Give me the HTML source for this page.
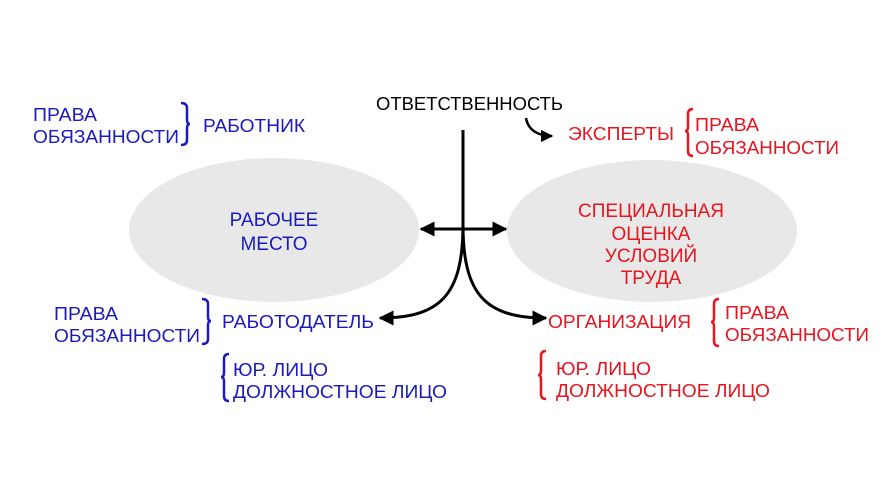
<!DOCTYPE html>
<html><head><meta charset="utf-8"><style>
html,body{margin:0;padding:0;background:#fff;width:888px;height:500px;overflow:hidden}
svg{display:block}
text{font-family:"Liberation Sans","DejaVu Sans",sans-serif;font-size:18px}
.b{fill:#1a1ac0}.r{fill:#e8141e}.k{fill:#000}
.big{font-size:19px}
</style></head><body>
<svg width="888" height="500" viewBox="0 0 888 500">
<defs>
<marker id="a" viewBox="0 0 10 10" refX="9" refY="5" markerWidth="5" markerHeight="5" orient="auto-start-reverse"><path d="M0,0L10,5L0,10z" fill="#000"/></marker>
</defs>
<ellipse cx="274" cy="230" rx="145" ry="72" fill="#e8e8e8"/>
<ellipse cx="652" cy="231" rx="145" ry="71" fill="#e8e8e8"/>

<g stroke="#000" stroke-width="3" fill="none">
<path d="M463,130 L463,225 C463,295 440,318 380,318" marker-end="url(#a)"/>
<path d="M463,225 C463,295 486,318 546,318" marker-end="url(#a)"/>
<line x1="421" y1="229" x2="506" y2="229" marker-start="url(#a)" marker-end="url(#a)"/>
<path d="M526,118 C528,130 538,136 552,136" marker-end="url(#a)" stroke-width="2.5"/>
</g>

<g fill="none" stroke-width="2.5">
<path d="M181,103 Q187,103 187,108 L187,120 Q187,124 190,124 Q187,124 187,128 L187,140 Q187,145 181,145" stroke="#1a1ac0"/>
<path d="M202,299 Q208,299 208,304 L208,317 Q208,321 211,321 Q208,321 208,325 L208,339 Q208,344 202,344" stroke="#1a1ac0"/>
<path d="M229,354 Q224,354 224,359 L224,373 Q224,377 221,377 Q224,377 224,381 L224,396 Q224,401 229,401" stroke="#1a1ac0"/>
<path d="M693,109 Q688,109 688,114 L688,127 Q688,131 685,131 Q688,131 688,135 L688,151 Q688,156 693,156" stroke="#e8141e"/>
<path d="M719,299 Q714,299 714,304 L714,318 Q714,322 711,322 Q714,322 714,326 L714,341 Q714,346 719,346" stroke="#e8141e"/>
<path d="M546,351 Q541,351 541,356 L541,371 Q541,375 538,375 Q541,375 541,379 L541,394 Q541,399 546,399" stroke="#e8141e"/>
</g>

<text x="376" y="110" class="k" textLength="187" lengthAdjust="spacingAndGlyphs">ОТВЕТСТВЕННОСТЬ</text>

<text x="33" y="121" class="b" textLength="64" lengthAdjust="spacingAndGlyphs">ПРАВА</text>
<text x="33" y="143" class="b" textLength="146" lengthAdjust="spacingAndGlyphs">ОБЯЗАННОСТИ</text>
<text x="203" y="132" class="b" textLength="102" lengthAdjust="spacingAndGlyphs">РАБОТНИК</text>

<text x="274" y="226" class="b big" text-anchor="middle">РАБОЧЕЕ</text>
<text x="274" y="250" class="b big" text-anchor="middle">МЕСТО</text>

<text x="54" y="320" class="b" textLength="64" lengthAdjust="spacingAndGlyphs">ПРАВА</text>
<text x="54" y="342" class="b" textLength="146" lengthAdjust="spacingAndGlyphs">ОБЯЗАННОСТИ</text>
<text x="222" y="328" class="b" textLength="152" lengthAdjust="spacingAndGlyphs">РАБОТОДАТЕЛЬ</text>
<text x="233" y="376" class="b" textLength="95" lengthAdjust="spacingAndGlyphs">ЮР. ЛИЦО</text>
<text x="233" y="398" class="b" textLength="214" lengthAdjust="spacingAndGlyphs">ДОЛЖНОСТНОЕ ЛИЦО</text>

<text x="568" y="140" class="r" textLength="106" lengthAdjust="spacingAndGlyphs">ЭКСПЕРТЫ</text>
<text x="695" y="131" class="r" textLength="64" lengthAdjust="spacingAndGlyphs">ПРАВА</text>
<text x="695" y="154" class="r" textLength="144" lengthAdjust="spacingAndGlyphs">ОБЯЗАННОСТИ</text>

<text x="651" y="217" class="r big" text-anchor="middle">СПЕЦИАЛЬНАЯ</text>
<text x="651" y="240" class="r big" text-anchor="middle">ОЦЕНКА</text>
<text x="651" y="262" class="r big" text-anchor="middle">УСЛОВИЙ</text>
<text x="651" y="284" class="r big" text-anchor="middle">ТРУДА</text>

<text x="548" y="328" class="r" textLength="143" lengthAdjust="spacingAndGlyphs">ОРГАНИЗАЦИЯ</text>
<text x="725" y="319" class="r" textLength="64" lengthAdjust="spacingAndGlyphs">ПРАВА</text>
<text x="725" y="341" class="r" textLength="144" lengthAdjust="spacingAndGlyphs">ОБЯЗАННОСТИ</text>
<text x="556" y="375" class="r" textLength="95" lengthAdjust="spacingAndGlyphs">ЮР. ЛИЦО</text>
<text x="556" y="397" class="r" textLength="214" lengthAdjust="spacingAndGlyphs">ДОЛЖНОСТНОЕ ЛИЦО</text>
</svg>
</body></html>
